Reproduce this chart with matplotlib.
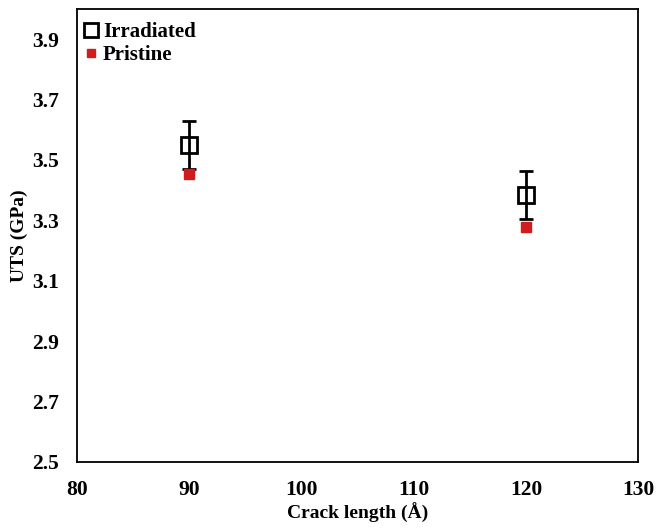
import matplotlib
matplotlib.use("Agg")
import matplotlib.pyplot as plt
from matplotlib.lines import Line2D

crack_length = [90, 120]
uts_irradiated = [3.55, 3.385]
uts_irradiated_err = [0.08, 0.08]
uts_pristine = [3.455, 3.278]

y_ticks = [2.5, 2.7, 2.9, 3.1, 3.3, 3.5, 3.7, 3.9]
x_ticks = [80, 90, 100, 110, 120, 130]

red = "#d01c1c"

plt.rcParams["font.family"] = ["Liberation Serif", "DejaVu Serif"]
plt.rcParams["font.weight"] = "bold"

fig = plt.figure(figsize=(6.56, 5.29), dpi=100)
ax = fig.add_axes([0.117, 0.127, 0.856, 0.856])

ax.errorbar(crack_length, uts_irradiated, yerr=uts_irradiated_err,
            fmt="s", mfc="none", mec="black", mew=2, ms=11,
            ecolor="black", elinewidth=2, capsize=5, capthick=2, zorder=3)
ax.plot(crack_length, uts_pristine, "s", color=red, ms=7,
        zorder=4, linestyle="none")

ax.set_xlim(80, 130)
ax.set_ylim(2.5, 4.0)
ax.set_xticks(x_ticks)
ax.set_yticks(y_ticks)
ax.set_yticklabels([f"{v:.1f}" for v in y_ticks])
ax.tick_params(length=0, labelsize=15.5, pad=13)
for lab in ax.get_xticklabels() + ax.get_yticklabels():
    lab.set_fontweight("bold")
for s in ax.spines.values():
    s.set_linewidth(1.3)

ax.set_xlabel("Crack length (\u00c5)", fontsize=14, fontweight="bold", labelpad=2)
ax.set_ylabel("UTS (GPa)", fontsize=14, fontweight="bold", labelpad=3)

handles = [
    Line2D([], [], marker="s", ls="none", mfc="none", mec="black", mew=2, ms=10),
    Line2D([], [], marker="s", ls="none", color=red, ms=6),
]
ax.legend(handles, ["Irradiated", "Pristine"], loc="upper left", frameon=False,
          bbox_to_anchor=(0.0, 0.985),
          prop={"size": 15, "weight": "bold"}, handletextpad=0.15,
          handlelength=0.8, borderaxespad=0.1, labelspacing=0.15,
          borderpad=0.2)

fig.savefig("out.png", dpi=100)
